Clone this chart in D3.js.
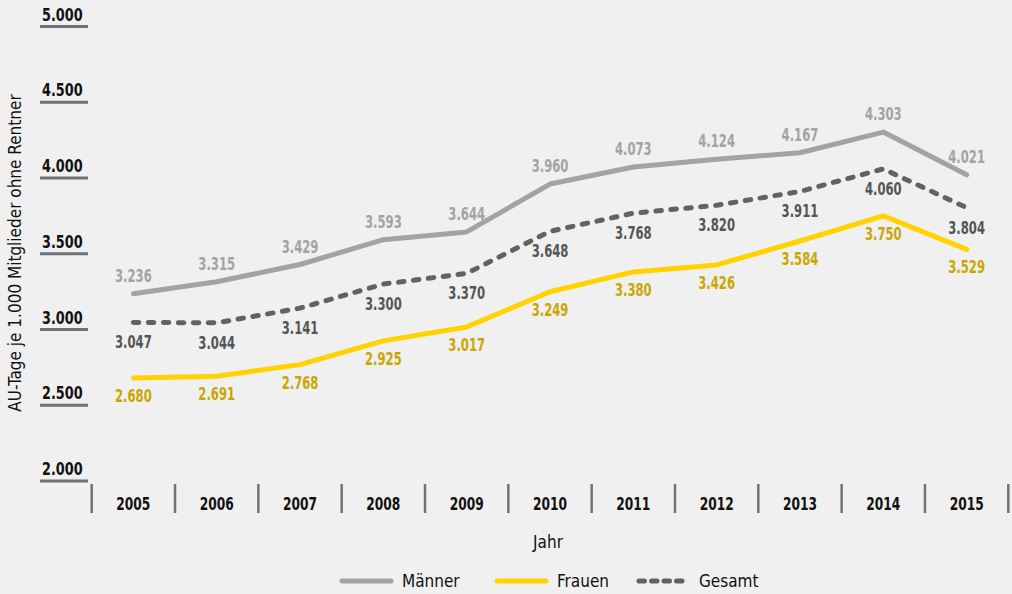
<!DOCTYPE html>
<html>
<head>
<meta charset="utf-8">
<script src="https://cdn.jsdelivr.net/npm/d3@7"></script>
<style>
  html, body { margin: 0; padding: 0; background: #f0f0f0; }
  svg { display: block; font-family: "Liberation Sans Narrow", "DejaVu Sans Condensed", "Roboto Condensed", sans-serif; }
</style>
</head>
<body>
<svg id="chart" width="1012" height="594"></svg>
<script>
// AU-Tage je 1.000 Mitglieder (ohne Rentner), 2005–2015
const years = ["2005","2006","2007","2008","2009","2010","2011","2012","2013","2014","2015"];
const maenner = [3236, 3315, 3429, 3593, 3644, 3960, 4073, 4124, 4167, 4303, 4021];
const frauen  = [2680, 2691, 2768, 2925, 3017, 3249, 3380, 3426, 3584, 3750, 3529];
const gesamt  = [3047, 3044, 3141, 3300, 3370, 3648, 3768, 3820, 3911, 4060, 3804];
const yTicks = [2000, 2500, 3000, 3500, 4000, 4500, 5000];

const fmt = v => d3.format(",")(v).replace(/,/g, ".");

const svg = d3.select("#chart");

const x = d3.scaleBand().domain(years).range([91.7, 1008.3]).padding(0);
const y = d3.scaleLinear().domain([2000, 5000]).range([481, 26.5]);
const cx = d => x(d) + x.bandwidth() / 2;

// condensed bold numerals: squeeze horizontally around the anchor point
const squeeze = (px, py, sx) => `translate(${px},${py}) scale(${sx},1)`;

// y-axis: label above a short rule
const yAxis = svg.append("g");
yAxis.selectAll("line").data(yTicks).join("line")
  .attr("x1", 40).attr("x2", 88)
  .attr("y1", d => y(d)).attr("y2", d => y(d))
  .attr("stroke", "#6f7479").attr("stroke-width", 3);
yAxis.selectAll("text").data(yTicks).join("text")
  .attr("transform", d => squeeze(42, y(d) - 6, 0.84))
  .attr("font-size", 17).attr("font-weight", "bold").attr("fill", "#111")
  .text(fmt);

svg.append("text")
  .attr("transform", "translate(21,253) rotate(-90)")
  .attr("text-anchor", "middle")
  .attr("font-size", 17).attr("fill", "#111")
  .text("AU-Tage je 1.000 Mitglieder ohne Rentner");

// x-axis: separators between years
const seps = years.map(d => x(d)).concat([x(years[years.length - 1]) + x.bandwidth()]);
svg.append("g").selectAll("line").data(seps).join("line")
  .attr("x1", d => d).attr("x2", d => d)
  .attr("y1", 484).attr("y2", 513)
  .attr("stroke", "#6f7479").attr("stroke-width", 2.5);
svg.append("g").selectAll("text").data(years).join("text")
  .attr("transform", d => squeeze(cx(d), 510, 0.8))
  .attr("text-anchor", "middle")
  .attr("font-size", 17).attr("font-weight", "bold").attr("fill", "#111")
  .text(d => d);
svg.append("text")
  .attr("x", 548).attr("y", 548).attr("text-anchor", "middle")
  .attr("font-size", 17).attr("fill", "#111")
  .text("Jahr");

const series = [
  { name: "Männer", values: maenner, stroke: "#a3a3a3", labelFill: "#a3a3a3", dash: null, dy: -12 },
  { name: "Frauen", values: frauen,  stroke: "#ffd200", labelFill: "#c9a600", dash: null, dy: 24 },
  { name: "Gesamt", values: gesamt,  stroke: "#626262", labelFill: "#555555", dash: "5.5 9.5", dy: 26 }
];

const line = d3.line().x((d, i) => cx(years[i])).y(d => y(d));

series.forEach(s => {
  svg.append("path")
    .attr("d", line(s.values))
    .attr("fill", "none")
    .attr("stroke", s.stroke)
    .attr("stroke-width", 5)
    .attr("stroke-linecap", "round")
    .attr("stroke-linejoin", "round")
    .attr("stroke-dasharray", s.dash);
  svg.append("g").selectAll("text").data(s.values).join("text")
    .attr("transform", (d, i) => squeeze(cx(years[i]), y(d) + s.dy, 0.76))
    .attr("text-anchor", "middle")
    .attr("font-size", 17).attr("font-weight", "bold")
    .attr("fill", s.labelFill)
    .text(fmt);
});

// legend
const legendX = [342, 497, 639];
const lg = svg.append("g");
series.forEach((s, i) => {
  lg.append("line")
    .attr("x1", legendX[i]).attr("x2", legendX[i] + 49)
    .attr("y1", 581).attr("y2", 581)
    .attr("stroke", s.stroke).attr("stroke-width", 5)
    .attr("stroke-linecap", "round")
    .attr("stroke-dasharray", s.dash ? "5.5 7" : null);
  lg.append("text")
    .attr("x", legendX[i] + 60).attr("y", 587)
    .attr("font-size", 17).attr("fill", "#111")
    .text(s.name);
});
</script>
</body>
</html>
